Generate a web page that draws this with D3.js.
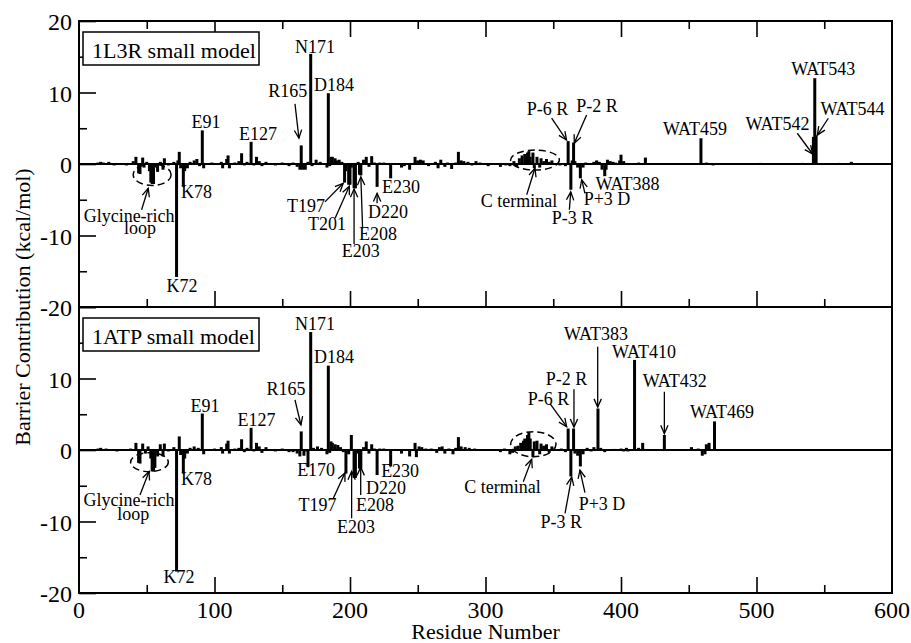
<!DOCTYPE html>
<html><head><meta charset="utf-8">
<script src="https://cdn.jsdelivr.net/npm/d3@7"></script>
<style>body{margin:0;background:#fff}svg{display:block}svg text{font-family:"Liberation Serif","Times New Roman",Times,serif}</style>
</head><body><svg id="chart" width="911" height="643"></svg>
<script>
// ---------- data ----------
const panelTitles = ["1L3R small model", "1ATP small model"];
const xMajorTicks = [0, 100, 200, 300, 400, 500, 600];
const xMinorTicks = [50, 150, 250, 350, 450, 550];
const yMajorTicks = [-20, -10, 0, 10, 20];
const yMinorTicks = [-15, -5, 5, 15];
const yLabelsTop = [20, 10, 0, -10, -20];
const yLabelsBottom = [10, 0, -10, -20];

// [residue, barrier contribution kcal/mol]
const bars1L3R = [
[14,0.2],[16,0.3],[18,0.2],[22,0.3],[26,-0.2],[30,0.1],[35,-0.2],[40,0.4],[42,1.0],[44,-1.3],[45,-1.4],[47,0.9],[48,-0.5],[50,0.3],[52,-1.0],[53,-2.6],[54,-2.8],[55,-2.8],[56,-0.5],[58,-1.1],[60,0.3],[62,-0.8],[63,0.8],[66,-0.2],[70,0.3],[72,-15.8],[73,0.5],[74,1.7],[75,-0.6],[77,-3.2],[78,-1.0],[80,-0.6],[82,0.3],[85,0.5],[87,0.7],[89,-0.3],[91,4.7],[92,-0.6],[95,0.1],[98,0.2],[102,0.1],[105,0.3],[106,-0.6],[109,0.7],[110,1.2],[111,-0.6],[115,0.2],[118,0.4],[120,1.5],[122,-0.2],[124,0.3],[127,3.1],[129,-0.2],[131,1.0],[133,0.4],[135,-0.3],[138,0.3],[141,0.1],[145,-0.2],[150,0.2],[155,-0.3],[158,0.2],[161,-0.4],[163,-0.8],[164,2.6],[165,-0.8],[167,-0.8],[169,0.3],[171,15.4],[172,-0.3],[175,0.6],[178,0.3],[181,0.1],[183,-0.5],[184,9.9],[185,-0.3],[186,1.0],[187,1.0],[189,0.8],[190,0.5],[192,0.6],[194,0.3],[196,-2.6],[197,-1.0],[199,-2.9],[200,-2.9],[201,-0.5],[203,-3.4],[204,-3.4],[206,0.3],[207,-1.5],[208,-1.6],[210,0.6],[212,1.0],[214,-0.4],[216,1.1],[218,0.2],[220,-3.2],[222,0.2],[225,0.2],[227,0.1],[230,-2.0],[233,0.1],[236,0.1],[238,-0.5],[240,-0.3],[244,-0.8],[248,1.0],[250,0.5],[252,0.6],[254,0.5],[258,-0.3],[260,0.1],[263,0.3],[265,-0.6],[267,0.6],[270,-0.4],[272,0.2],[275,-0.7],[278,0.2],[280,1.7],[282,0.5],[284,0.4],[287,0.3],[290,-0.2],[293,0.4],[296,0.2],[300,0.1],[302,-0.3],[305,0.1],[310,0.1],[311,-0.4],[315,-0.2],[318,-0.3],[321,0.4],[323,-0.4],[325,0.8],[327,1.2],[329,1.4],[330,1.3],[331,1.6],[332,1.8],[333,1.0],[335,1.6],[336,-0.6],[338,1.0],[340,-0.5],[341,0.8],[343,0.4],[345,0.7],[347,0.3],[349,0.5],[352,0.1],[355,-0.2],[359,-0.3],[361,3.2],[363,-3.6],[364,0.5],[365,3.0],[366,0.4],[368,-0.5],[370,-2.0],[372,-0.5],[374,0.2],[377,0.1],[380,0.3],[382,0.5],[384,0.3],[386,-0.8],[388,-1.7],[389,-0.8],[390,0.6],[392,0.4],[394,0.3],[396,0.2],[399,0.5],[400,1.3],[402,0.4],[405,-0.1],[409,0.1],[413,0.2],[418,0.9],[420,-0.1],[426,0.1],[435,0.1],[459,3.6],[463,0.2],[468,-0.2],[500,0.1],[503,0.15],[506,0.1],[516,0.1],[525,0.1],[534,0.15],[542,3.8],[543,12.0],[544,4.0],[552,0.1],[561,0.15],[567,0.1],[570,0.3],[578,0.1]
];
const bars1ATP = [
[14,0.2],[16,0.3],[20,0.2],[24,0.1],[28,-0.2],[33,0.1],[38,0.2],[42,1.0],[44,-1.8],[45,-1.9],[47,0.9],[49,-0.5],[51,0.5],[53,-1.2],[54,-3.0],[55,-3.0],[56,-2.5],[58,-0.9],[60,0.8],[62,-0.9],[63,0.9],[66,-0.2],[70,0.4],[72,-17.0],[74,1.9],[75,-0.7],[77,-3.3],[78,-1.2],[80,-0.5],[82,0.3],[85,0.5],[88,0.3],[91,5.1],[92,-0.6],[96,0.1],[100,0.2],[105,0.4],[106,-0.5],[109,0.9],[110,1.3],[111,-0.5],[115,0.2],[118,0.3],[120,1.5],[122,-0.3],[124,0.3],[127,3.1],[129,-0.2],[131,1.0],[133,0.5],[135,-0.4],[138,0.4],[141,0.1],[145,-0.2],[150,0.2],[155,-0.3],[158,-0.3],[161,-0.5],[163,-0.9],[164,2.6],[166,-0.8],[168,-0.2],[169,-2.4],[171,16.5],[173,0.3],[176,0.5],[179,0.3],[182,0.1],[183,-0.6],[184,11.8],[185,-0.4],[186,1.2],[187,1.0],[189,0.8],[191,0.7],[193,0.4],[195,-0.3],[197,-3.3],[199,-0.6],[201,2.1],[203,-3.9],[204,-3.9],[206,-0.5],[207,-2.6],[208,-2.6],[210,0.4],[212,1.2],[214,-0.5],[216,0.8],[218,0.2],[220,-3.5],[222,0.2],[225,0.2],[230,-2.3],[234,0.1],[238,-0.5],[240,0.1],[244,-0.9],[248,1.0],[249,-1.0],[251,0.5],[253,0.4],[256,0.2],[260,0.2],[264,-0.4],[266,0.4],[268,0.5],[270,-0.5],[273,0.2],[276,-0.6],[278,0.3],[280,1.8],[282,0.5],[285,0.4],[288,0.3],[292,0.2],[296,0.1],[300,0.1],[305,0.1],[311,-0.3],[314,0.2],[318,-0.6],[320,-0.4],[322,0.5],[324,0.6],[326,1.0],[328,1.3],[329,1.6],[330,1.5],[331,2.1],[332,2.5],[333,1.6],[335,-1.0],[336,1.2],[338,1.3],[340,-0.6],[341,0.9],[343,0.6],[345,0.8],[347,-0.4],[349,0.5],[352,0.1],[356,0.2],[359,-0.3],[361,3.0],[363,-3.7],[365,3.0],[366,-0.5],[368,-0.8],[370,-2.3],[372,-0.6],[375,0.3],[378,-0.2],[380,0.4],[383,5.8],[385,0.3],[388,-0.3],[393,0.1],[395,0.15],[400,0.2],[402,-0.2],[404,0.3],[405,-0.2],[410,12.6],[413,0.3],[416,1.0],[425,0.1],[432,2.1],[440,0.1],[445,0.1],[452,0.4],[457,0.2],[460,-0.8],[462,-0.6],[463,0.8],[465,1.0],[469,4.0],[475,0.1]
];

// annotation labels: [text, residue, value, anchor]
const labels1L3R = [
["N171",174.2,15.5,"middle"],["D184",188.2,10.25,"middle"],["R165",154.1,9.4,"middle"],
["E91",93.7,5.0,"middle"],["E127",132.1,3.36,"middle"],["K78",75.3,-4.8,"start"],
["K72",76,-17.9,"middle"],["Glycine-rich",37,-8.1,"middle"],["loop",45,-9.75,"middle"],
["T197",167.5,-6.7,"middle"],["T201",183,-9.2,"middle"],["E203",208,-13.0,"middle"],
["E208",220.6,-10.6,"middle"],["D220",228,-7.6,"middle"],["E230",237.6,-4.1,"middle"],
["C terminal",324.7,-6.0,"middle"],["P-6 R",345.8,6.85,"middle"],["P-2 R",382.3,7.3,"middle"],
["P-3 R",364.2,-8.4,"middle"],["P+3 D",389.7,-5.8,"middle"],["WAT388",404.8,-3.6,"middle"],
["WAT459",454.6,4.05,"middle"],["WAT542",515.5,4.75,"middle"],["WAT543",549.3,12.45,"middle"],
["WAT544",570.8,6.85,"middle"]
];
const labels1ATP = [
["N171",174.2,16.8,"middle"],["D184",188.2,12.1,"middle"],["R165",152.8,7.7,"middle"],
["E91",93,5.36,"middle"],["E127",131,3.36,"middle"],["K78",75.3,-4.9,"start"],
["K72",73.8,-18.65,"middle"],["Glycine-rich",36.9,-7.9,"middle"],["loop",40,-9.75,"middle"],
["E170",175,-3.7,"middle"],["T197",176,-8.5,"middle"],["E203",204.4,-11.65,"middle"],
["E208",218.5,-8.6,"middle"],["D220",226.5,-6.15,"middle"],["E230",237,-3.8,"middle"],
["C terminal",312.5,-6.06,"middle"],["P-2 R",359.8,9.1,"middle"],["P-6 R",346.5,6.3,"middle"],
["P-3 R",356,-10.95,"middle"],["P+3 D",386,-8.4,"middle"],["WAT383",381.5,15.4,"middle"],
["WAT410",417,12.8,"middle"],["WAT432",439.6,8.77,"middle"],["WAT469",474.5,4.43,"middle"]
];

// arrows: [fromResidue, fromValue, toResidue, toValue]
const arrows1L3R = [
[159.4,8.4,162.3,3.6],[46.2,-6.4,51.1,-3.4],[181.5,-5.3,195,-2.7],[189,-7.6,199.5,-3.1],
[203,-11.2,203,-3.5],[209.3,-9.0,208,-1.8],[220,-5.5,220,-4.1],[330.4,-4.3,336.5,-0.6],
[348.8,6.4,359.8,3.35],[374.6,6.85,365.5,2.9],[361.9,-6.4,362.9,-3.9],[373.4,-4.1,371,-2.2],
[530.1,4.3,541.4,1.4],[553,6.4,544.9,4.05]
];
const arrows1ATP = [
[159.4,7.0,163.8,3.5],[45,-6.3,51.7,-3.0],[187.7,-6.75,196.3,-3.2],[201.2,-9.55,201.2,-3.0],
[207.9,-6.3,207.9,-2.4],[327.9,-4.43,334.1,-1.3],[347.6,6.5,359.9,3.26],[365.3,8.5,365.3,3.2],
[382.8,14.45,382.8,6.0],[432,8.15,432,2.3],[358.7,-8.85,363.6,-3.8],[373.4,-5.97,369.7,-2.8]
];

// dashed ellipses: [centerResidue, centerValue, radiusResidues, radiusValue]
const ellipses1L3R = [[54,-1.5,14,1.5],[336.5,0.55,18,1.4]];
const ellipses1ATP = [[52,-1.7,13.9,1.33],[335.3,0.81,16.7,1.75]];

// ---------- drawing ----------
const svg = d3.select("#chart");
const plotLeft = 79, plotRight = 892, plotTop = 21, plotMid = 307, plotBottom = 593;
const x = d3.scaleLinear().domain([0, 600]).range([plotLeft, plotRight]);

const panels = [
  {title: panelTitles[0], bars: bars1L3R, labels: labels1L3R, arrows: arrows1L3R, ellipses: ellipses1L3R,
   y: d3.scaleLinear().domain([-20, 20]).range([plotMid, plotTop]), y0: plotTop, y1: plotMid, yLabels: yLabelsTop, topTicks: true},
  {title: panelTitles[1], bars: bars1ATP, labels: labels1ATP, arrows: arrows1ATP, ellipses: ellipses1ATP,
   y: d3.scaleLinear().domain([-20, 20]).range([plotBottom, plotMid]), y0: plotMid, y1: plotBottom, yLabels: yLabelsBottom, topTicks: false}
];

function styleAxis(g) {
  g.select(".domain").remove();
  g.selectAll(".tick line").attr("stroke", "#000").attr("stroke-width", 1.6);
  g.selectAll(".tick text").remove();
}

panels.forEach(p => {
  const g = svg.append("g");
  const y = p.y;

  g.append("g").selectAll("rect").data(p.bars).join("rect")
    .attr("x", d => x(d[0]) - 1.5)
    .attr("width", 3)
    .attr("y", d => Math.min(y(d[1]), y(0)))
    .attr("height", d => Math.abs(y(d[1]) - y(0)))
    .attr("fill", "#000");

  g.append("line").attr("x1", x(0)).attr("x2", x(600)).attr("y1", y(0)).attr("y2", y(0))
    .attr("stroke", "#000").attr("stroke-width", 2);

  g.append("rect").attr("x", plotLeft).attr("y", p.y0).attr("width", plotRight - plotLeft).attr("height", p.y1 - p.y0)
    .attr("fill", "none").attr("stroke", "#000").attr("stroke-width", 2);

  g.append("g").attr("transform", `translate(${plotLeft},0)`)
    .call(d3.axisRight(y).tickValues(yMajorTicks).tickSize(17)).call(styleAxis);
  g.append("g").attr("transform", `translate(${plotLeft},0)`)
    .call(d3.axisRight(y).tickValues(yMinorTicks).tickSize(8)).call(styleAxis);

  g.append("g").attr("transform", `translate(0,${p.y1})`)
    .call(d3.axisTop(x).tickValues(xMajorTicks.slice(1, -1)).tickSize(16)).call(styleAxis);
  g.append("g").attr("transform", `translate(0,${p.y1})`)
    .call(d3.axisTop(x).tickValues(xMinorTicks).tickSize(8)).call(styleAxis);
  if (p.topTicks) {
    g.append("g").attr("transform", `translate(0,${p.y0})`)
      .call(d3.axisBottom(x).tickValues(xMajorTicks.slice(1, -1)).tickSize(16)).call(styleAxis);
    g.append("g").attr("transform", `translate(0,${p.y0})`)
      .call(d3.axisBottom(x).tickValues(xMinorTicks).tickSize(8)).call(styleAxis);
  }

  g.append("g").selectAll("text").data(p.yLabels).join("text")
    .attr("x", plotLeft - 7).attr("y", d => y(d) + 1)
    .attr("text-anchor", "end").attr("dominant-baseline", "central")
    .attr("font-size", 24).text(d => d);

  g.append("rect").attr("x", plotLeft + 4).attr("y", p.y0 + 11).attr("width", 176).attr("height", 33)
    .attr("fill", "#fff").attr("stroke", "#000").attr("stroke-width", 1.5);
  g.append("text").attr("x", plotLeft + 13).attr("y", p.y0 + 37)
    .attr("font-size", 22).text(p.title);

  g.append("g").selectAll("ellipse").data(p.ellipses).join("ellipse")
    .attr("cx", d => x(d[0])).attr("cy", d => y(d[1]))
    .attr("rx", d => x(d[2]) - x(0)).attr("ry", d => y(0) - y(d[3]))
    .attr("fill", "none").attr("stroke", "#000").attr("stroke-width", 1.5)
    .attr("stroke-dasharray", "7,4");

  const ag = g.append("g").attr("stroke", "#000").attr("stroke-width", 1.3).attr("fill", "none");
  p.arrows.forEach(a => {
    const x1 = x(a[0]), y1 = y(a[1]), x2 = x(a[2]), y2 = y(a[3]);
    const ang = Math.atan2(y2 - y1, x2 - x1);
    const L = 9, spread = 0.42;
    ag.append("line").attr("x1", x1).attr("y1", y1).attr("x2", x2).attr("y2", y2);
    ag.append("path").attr("d",
      `M${x2 - L * Math.cos(ang - spread)},${y2 - L * Math.sin(ang - spread)}L${x2},${y2}L${x2 - L * Math.cos(ang + spread)},${y2 - L * Math.sin(ang + spread)}`);
  });

  g.append("g").selectAll("text").data(p.labels).join("text")
    .attr("x", d => x(d[1])).attr("y", d => y(d[2]))
    .attr("text-anchor", d => d[3])
    .attr("font-size", 18).text(d => d[0]);
});

svg.append("g").selectAll("text").data(xMajorTicks).join("text")
  .attr("x", d => x(d)).attr("y", plotBottom + 25)
  .attr("text-anchor", "middle").attr("font-size", 24).text(d => d);

svg.append("text").attr("x", x(300)).attr("y", 639).attr("text-anchor", "middle")
  .attr("font-size", 22).text("Residue Number");
svg.append("text").attr("transform", `translate(30,${plotMid}) rotate(-90)`).attr("text-anchor", "middle")
  .attr("font-size", 22).text("Barrier Contribution (kcal/mol)");
</script></body></html>
